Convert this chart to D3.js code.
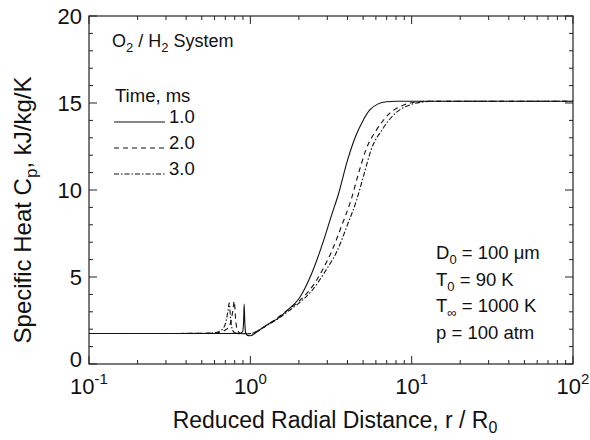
<!DOCTYPE html>
<html>
<head>
<meta charset="utf-8">
<script src="https://cdn.jsdelivr.net/npm/d3@7"></script>
<style>
  body { margin: 0; background: #fff; }
  svg text { font-family: "Liberation Sans", Arial, sans-serif; fill: #111; }
</style>
</head>
<body>
<svg id="chart" width="590" height="440"></svg>
<script>
// Cp profiles
const radius1 = [0.1, 0.5, 0.86, 0.895, 0.908, 0.916, 0.924, 0.935, 0.95, 0.975, 1.0, 1.1, 1.2, 1.35, 1.5, 1.7, 2.0, 2.4, 2.8, 3.2, 3.5, 4.0, 4.5, 5.0, 5.5, 6.2, 7.0, 8.0, 10, 30, 100];
const cp1     = [1.75, 1.75, 1.76, 1.85, 2.4, 3.45, 2.4, 1.8, 1.68, 1.63, 1.62, 1.85, 2.1, 2.4, 2.65, 3.1, 3.75, 5.2, 6.9, 8.6, 9.7, 11.7, 13.1, 14.0, 14.6, 14.95, 15.07, 15.1, 15.1, 15.1, 15.1];

const radius2 = [0.1, 0.5, 0.62, 0.7, 0.75, 0.78, 0.795, 0.81, 0.83, 0.86, 0.92, 1.0, 1.1, 1.2, 1.4, 1.7, 2.0, 2.4, 2.8, 3.2, 3.7, 4.2, 4.7, 5.2, 6.1, 7.3, 9.0, 10.5, 12.5, 30, 100];
const cp2     = [1.75, 1.76, 1.8, 1.95, 2.3, 3.1, 3.6, 2.6, 1.95, 1.78, 1.72, 1.75, 1.88, 2.1, 2.5, 3.1, 3.6, 4.4, 5.4, 6.5, 8.0, 9.4, 11.0, 12.3, 13.5, 14.4, 14.9, 15.05, 15.1, 15.1, 15.1];

const radius3 = [0.1, 0.5, 0.6, 0.66, 0.7, 0.725, 0.74, 0.755, 0.775, 0.8, 0.86, 1.0, 1.1, 1.2, 1.4, 1.7, 2.0, 2.4, 2.9, 3.45, 4.0, 4.55, 5.1, 5.6, 6.6, 7.9, 9.8, 11.5, 13.5, 30, 100];
const cp3     = [1.75, 1.76, 1.8, 1.95, 2.3, 3.0, 3.5, 2.6, 1.95, 1.8, 1.74, 1.75, 1.88, 2.08, 2.45, 3.0, 3.5, 4.2, 5.3, 6.5, 8.0, 9.4, 11.0, 12.3, 13.5, 14.4, 14.9, 15.05, 15.1, 15.1, 15.1];

const series = [
    { label: "1.0", r: radius1, cp: cp1, dash: null },
    { label: "2.0", r: radius2, cp: cp2, dash: "5,4" },
    { label: "3.0", r: radius3, cp: cp3, dash: "5,2,1.5,2" }
];

const xMajorTicks = [0.1, 1, 10, 100];
const xTickExponents = ["-1", "0", "1", "2"];
const yMajorTicks = [0, 5, 10, 15, 20];

const margin = { left: 89, top: 16 };
const width = 484, height = 348;

const svg = d3.select("#chart");
const g = svg.append("g").attr("transform", `translate(${margin.left},${margin.top})`);

const x = d3.scaleLog().domain([0.1, 100]).range([0, width]);
const y = d3.scaleLinear().domain([0, 20]).range([height, 0]);

// minor x ticks 2..9 each decade
const xMinor = [];
[0.1, 1, 10].forEach(d => { for (let k = 2; k <= 9; k++) xMinor.push(d * k); });
const yMinor = d3.range(0, 21, 1).filter(v => v % 5 !== 0);

// frame
g.append("rect").attr("width", width).attr("height", height)
    .attr("fill", "none").attr("stroke", "#222").attr("stroke-width", 1.2);

// inward ticks on all four sides
function ticks(vals, len, horiz) {
    vals.forEach(v => {
        if (horiz) {
            const px = x(v);
            g.append("line").attr("x1", px).attr("x2", px).attr("y1", height).attr("y2", height - len).attr("stroke", "#222");
            g.append("line").attr("x1", px).attr("x2", px).attr("y1", 0).attr("y2", len).attr("stroke", "#222");
        } else {
            const py = y(v);
            g.append("line").attr("x1", 0).attr("x2", len).attr("y1", py).attr("y2", py).attr("stroke", "#222");
            g.append("line").attr("x1", width).attr("x2", width - len).attr("y1", py).attr("y2", py).attr("stroke", "#222");
        }
    });
}
ticks(xMajorTicks, 8, true);
ticks(xMinor, 4, true);
ticks(yMajorTicks, 8, false);
ticks(yMinor, 4, false);

// tick labels
yMajorTicks.forEach(v => {
    g.append("text").attr("x", -7).attr("y", y(v) + (v === 0 ? -5 : 0))
        .attr("dy", "0.35em").attr("text-anchor", "end")
        .style("font-size", "22px").text(v);
});
xMajorTicks.forEach((v, i) => {
    const t = g.append("text").attr("x", x(v)).attr("y", height + 30)
        .attr("text-anchor", "middle").style("font-size", "22px");
    t.append("tspan").text("10");
    t.append("tspan").attr("dy", -10).style("font-size", "15px").text(xTickExponents[i]);
});

// axis titles
const xt = svg.append("text").attr("x", 335).attr("y", 428).attr("text-anchor", "middle").style("font-size", "23px");
xt.append("tspan").text("Reduced Radial Distance, r / R");
xt.append("tspan").attr("dy", 5).style("font-size", "16px").text("0");

const yt = svg.append("text").attr("transform", "translate(31,210) rotate(-90)")
    .attr("text-anchor", "middle").style("font-size", "24px");
yt.append("tspan").text("Specific Heat C");
yt.append("tspan").attr("dy", 6).style("font-size", "17px").text("p");
yt.append("tspan").attr("dy", -6).text(", kJ/kg/K");

// curves
const line = d3.line().x(d => x(d[0])).y(d => y(d[1])).curve(d3.curveMonotoneX);
series.forEach(s => {
    const pts = s.r.map((r, i) => [r, s.cp[i]]);
    g.append("path").datum(pts).attr("d", line)
        .attr("fill", "none").attr("stroke", "#111").attr("stroke-width", 1.1)
        .attr("stroke-dasharray", s.dash);
});

// system label
const sys = svg.append("text").attr("x", 112).attr("y", 47).style("font-size", "18px");
sys.append("tspan").text("O");
sys.append("tspan").attr("dy", 5).style("font-size", "13px").text("2");
sys.append("tspan").attr("dy", -5).text(" / H");
sys.append("tspan").attr("dy", 5).style("font-size", "13px").text("2");
sys.append("tspan").attr("dy", -5).text(" System");

// legend
svg.append("text").attr("x", 115).attr("y", 102).style("font-size", "18.5px").text("Time, ms");
series.forEach((s, i) => {
    const ly = 122 + i * 26;
    svg.append("line").attr("x1", 114).attr("x2", 165).attr("y1", ly).attr("y2", ly)
        .attr("stroke", "#111").attr("stroke-width", 1.1).attr("stroke-dasharray", s.dash);
    svg.append("text").attr("x", 169).attr("y", ly + 1).style("font-size", "18.5px").text(s.label);
});

// conditions
const cond = [
    ["D", "0", " = 100 \u03bcm"],
    ["T", "0", " = 90 K"],
    ["T", "\u221e", " = 1000 K"],
    ["p", "", " = 100 atm"]
];
cond.forEach((c, i) => {
    const t = svg.append("text").attr("x", 436).attr("y", 259 + i * 26.5).style("font-size", "18.5px");
    t.append("tspan").text(c[0]);
    if (c[1]) {
        t.append("tspan").attr("dy", 5).style("font-size", "13px").text(c[1]);
        t.append("tspan").attr("dy", -5).text(c[2]);
    } else {
        t.append("tspan").text(c[2]);
    }
});
</script>
</body>
</html>
